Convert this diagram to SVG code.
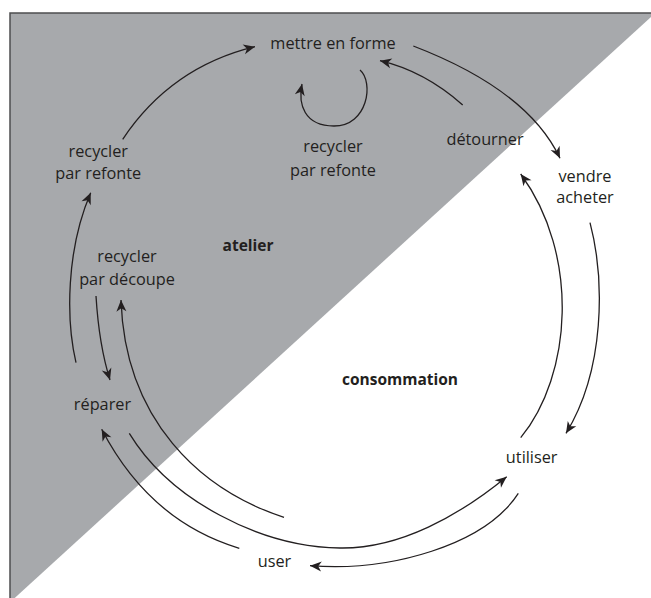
<svg xmlns="http://www.w3.org/2000/svg" width="651" height="598" viewBox="0 0 651 598">
<style>
  .lbl{font-family:"Open Sans","Liberation Sans",sans-serif;font-size:16.3px;fill:#231f20;text-anchor:middle}
  .zone{font-family:"Open Sans","Liberation Sans",sans-serif;font-size:15.5px;font-weight:bold;fill:#231f20;text-anchor:middle}
  .c{fill:none;stroke:#231f20;stroke-width:1.3}
  .a{marker-end:url(#ah)}
</style>
<defs>
  <marker id="ah" viewBox="-12 -6 13 12" refX="0" refY="0" markerWidth="13" markerHeight="12" markerUnits="userSpaceOnUse" orient="auto">
    <path d="M0,0 L-11.5,-5 L-8.2,0 L-11.5,5 Z" fill="#231f20"/>
  </marker>
</defs>
<rect width="651" height="598" fill="#ffffff"/>
<g id="zone-atelier">
  <polygon points="10,13 651,13 651,17 14.7,598 10,598" fill="#a7a9ac"/>
  <path d="M651,13 H10 V598" fill="none" stroke="#4d4d4f" stroke-width="1.5"/>
  <text class="zone" x="248" y="251">atelier</text>
</g>
<g id="zone-consommation">
  <text class="zone" x="400" y="385">consommation</text>
</g>
<g id="connectors">
  <path class="c a" d="M122.7,139.3 Q171,67 255,46.7"/>
  <path class="c a" d="M413.3,46 C455,62 530,95 560,158.3"/>
  <path class="c a" d="M462.7,105 Q424.6,71.2 380,60.7"/>
  <path class="c a" d="M360,70 C374,82 368,126 334,126 C304,126 298,104 302,84"/>
  <path class="c a" d="M520.7,437.7 C572,375 580,255 520.7,174"/>
  <path class="c a" d="M590,222.7 C605,280 605,370 566,433.3"/>
  <path class="c a" d="M518.3,493.3 C485,545 390,572 310,565.7"/>
  <path class="c a" d="M129.3,433.3 C170,500 260,547 340,548 C400,549 460,515 506.7,476.7"/>
  <path class="c a" d="M239.3,548.3 Q149.5,521.2 101.7,429.3"/>
  <path class="c a" d="M284,517.3 C200,490 125,420 121,300"/>
  <path class="c a" d="M96,296 Q99,345 110,380"/>
  <path class="c a" d="M76,362.7 C66,320 66,250 90.7,192.7"/>
</g>
<g id="n-mettre-en-forme"><text class="lbl" x="333" y="49">mettre en forme</text></g>
<g id="n-recycler-refonte-centre"><text class="lbl" x="333" y="152.3">recycler</text><text class="lbl" x="333" y="175.5">par refonte</text></g>
<g id="n-detourner"><text class="lbl" x="485" y="145">détourner</text></g>
<g id="n-vendre-acheter"><text class="lbl" x="585" y="181.7">vendre</text><text class="lbl" x="585" y="203">acheter</text></g>
<g id="n-recycler-refonte-gauche"><text class="lbl" x="98.3" y="156.7">recycler</text><text class="lbl" x="98.3" y="179.3">par refonte</text></g>
<g id="n-recycler-decoupe"><text class="lbl" x="127" y="262.3">recycler</text><text class="lbl" x="127" y="285">par découpe</text></g>
<g id="n-reparer"><text class="lbl" x="102.5" y="409.5">réparer</text></g>
<g id="n-utiliser"><text class="lbl" x="531.7" y="462.7">utiliser</text></g>
<g id="n-user"><text class="lbl" x="274.5" y="566.7">user</text></g>
</svg>
